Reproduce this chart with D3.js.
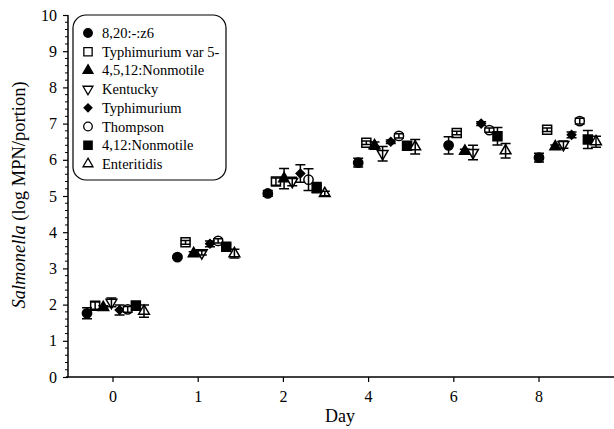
<!DOCTYPE html>
<html>
<head>
<meta charset="utf-8">
<script src="https://cdn.jsdelivr.net/npm/d3@7"></script>
<style>
body { margin: 0; background: #fff; }
svg text { font-family: "Liberation Serif", "DejaVu Serif", serif !important; fill: #000; }
</style>
</head>
<body>
<script>
// data
var days = ["0", "1", "2", "4", "6", "8"];
var serovars = ["8,20:-:z6", "Typhimurium var 5-", "4,5,12:Nonmotile", "Kentucky",
                "Typhimurium", "Thompson", "4,12:Nonmotile", "Enteritidis"];
// mean log MPN/portion, one row per serovar, one value per day
var means = [
  [1.76, 3.31, 5.07, 5.92, 6.40, 6.06],
  [1.97, 3.72, 5.40, 6.47, 6.74, 6.83],
  [1.92, 3.41, 5.48, 6.39, 6.24, 6.36],
  [2.06, 3.43, 5.40, 6.17, 6.20, 6.42],
  [1.85, 3.68, 5.62, 6.50, 7.00, 6.69],
  [1.87, 3.76, 5.45, 6.66, 6.82, 7.07],
  [1.97, 3.60, 5.23, 6.39, 6.65, 6.56],
  [1.82, 3.41, 5.07, 6.36, 6.25, 6.50]
];
var errs = [
  [0.15, 0.03, 0.08, 0.12, 0.24, 0.12],
  [0.10, 0.05, 0.10, 0.05, 0.05, 0.05],
  [0.05, 0.05, 0.28, 0.10, 0.05, 0.05],
  [0.12, 0.06, 0.12, 0.20, 0.20, 0.10],
  [0.14, 0.08, 0.24, 0.05, 0.05, 0.08],
  [0.08, 0.06, 0.30, 0.06, 0.06, 0.08],
  [0.12, 0.06, 0.14, 0.10, 0.24, 0.25],
  [0.17, 0.12, 0.06, 0.20, 0.20, 0.15]
];
var yTicks = [0, 1, 2, 3, 4, 5, 6, 7, 8, 9, 10];

var width = 614, height = 429;
var svg = d3.select("body").append("svg")
    .attr("width", width)
    .attr("height", height)
    .attr("font-family", "Liberation Serif, serif");

var y = d3.scaleLinear().domain([0, 10]).range([377, 15]);
// tick positions of the day categories
var xTick = d3.scalePoint().domain(days).range([112.5, 538.5]);
// marker positions: group start + offset of serovar within group
var xGroup = d3.scaleLinear().domain([0, days.length - 1]).range([87, 539]);
var xSer = d3.scaleLinear().domain([0, serovars.length - 1]).range([0, 57]);

// symbols (diamond = square turned 45deg)
var shapes = [
  {type: d3.symbolCircle, size: 68, fill: "#000", rot: 0},
  {type: d3.symbolSquare, size: 81, fill: "#fff", rot: 0},
  {type: d3.symbolTriangle, size: 50, fill: "#000", rot: 0},
  {type: d3.symbolTriangle, size: 50, fill: "#fff", rot: 180},
  {type: d3.symbolSquare, size: 36, fill: "#000", rot: 45},
  {type: d3.symbolCircle, size: 68, fill: "#fff", rot: 0},
  {type: d3.symbolSquare, size: 81, fill: "#000", rot: 0},
  {type: d3.symbolTriangle, size: 50, fill: "#fff", rot: 0}
];

// y axis
var yAxis = d3.axisLeft(y).tickValues(yTicks).tickSize(5).tickPadding(6).tickFormat(d3.format("d"));
var gy = svg.append("g").attr("transform", "translate(68,0)").call(yAxis);
gy.attr("font-family", null);
gy.select(".domain").attr("d", "M0," + y(0) + "V" + y(10)).attr("stroke-width", 1.5);
gy.selectAll(".tick line").attr("stroke-width", 1.2);
gy.selectAll(".tick text").style("font-size", "16px");
// minor ticks
gy.selectAll(".minor").data(d3.range(0, 10.01, 0.2).filter(function(d) { return Math.abs(d - Math.round(d)) > 0.01; }))
  .enter().append("line")
  .attr("class", "minor")
  .attr("x1", -3).attr("x2", 0)
  .attr("y1", function(d) { return y(d); })
  .attr("y2", function(d) { return y(d); })
  .attr("stroke", "#000");

// x axis
var xAxis = d3.axisBottom(xTick).tickSize(5).tickPadding(9);
var gx = svg.append("g").attr("transform", "translate(0," + y(0) + ")").call(xAxis);
gx.attr("font-family", null);
gx.select(".domain").attr("d", "M66,0H614").attr("stroke-width", 1.5);
gx.selectAll(".tick line").attr("stroke-width", 1.2);
gx.selectAll(".tick text").style("font-size", "16px");

// axis titles
svg.append("text")
  .attr("x", 340).attr("y", 422)
  .attr("text-anchor", "middle")
  .style("font-size", "18px")
  .text("Day");

var yt = svg.append("text")
  .attr("transform", "translate(25,195) rotate(-90)")
  .attr("text-anchor", "middle")
  .style("font-size", "18.5px");
yt.append("tspan").style("font-style", "italic").text("Salmonella");
yt.append("tspan").text(" (log MPN/portion)");

// points
var pts = [];
serovars.forEach(function(s, si) {
  days.forEach(function(d, di) {
    pts.push({s: si, d: di, v: means[si][di], e: errs[si][di]});
  });
});

var px = function(p) { return xGroup(p.d) + xSer(p.s); };

svg.append("g").selectAll("path")
  .data(pts)
  .enter().append("path")
  .attr("d", function(p) { return d3.symbol().type(shapes[p.s].type).size(shapes[p.s].size)(); })
  .attr("transform", function(p) { return "translate(" + px(p) + "," + y(p.v) + ") rotate(" + shapes[p.s].rot + ")"; })
  .attr("fill", function(p) { return shapes[p.s].fill; })
  .attr("stroke", "#000")
  .attr("stroke-width", 1.5);

// error bars
var eb = svg.append("g").attr("stroke", "#000").attr("stroke-width", 1.5).attr("fill", "none");
eb.selectAll("path")
  .data(pts)
  .enter().append("path")
  .attr("d", function(p) {
    var x = px(p), y1 = y(p.v + p.e), y2 = y(p.v - p.e);
    return "M" + (x - 5) + "," + y1 + "H" + (x + 5) +
           "M" + x + "," + y1 + "V" + y2 +
           "M" + (x - 5) + "," + y2 + "H" + (x + 5);
  });

// legend
var lg = svg.append("g");
lg.append("rect")
  .attr("x", 73).attr("y", 15)
  .attr("width", 153).attr("height", 165)
  .attr("rx", 13).attr("ry", 13)
  .attr("fill", "#fff").attr("stroke", "#000").attr("stroke-width", 1.2);

var item = lg.selectAll(".item")
  .data(serovars)
  .enter().append("g")
  .attr("class", "item")
  .attr("transform", function(d, i) { return "translate(0," + (33 + i * 18.7) + ")"; });

item.append("path")
  .attr("d", function(d, i) { return d3.symbol().type(shapes[i].type).size(shapes[i].size * 0.85)(); })
  .attr("transform", function(d, i) { return "translate(88,0) rotate(" + shapes[i].rot + ")"; })
  .attr("fill", function(d, i) { return shapes[i].fill; })
  .attr("stroke", "#000")
  .attr("stroke-width", 1.3);

item.append("text")
  .attr("x", 102).attr("y", 5)
  .style("font-size", "14.5px")
  .text(function(d) { return d; });
</script>
</body>
</html>
